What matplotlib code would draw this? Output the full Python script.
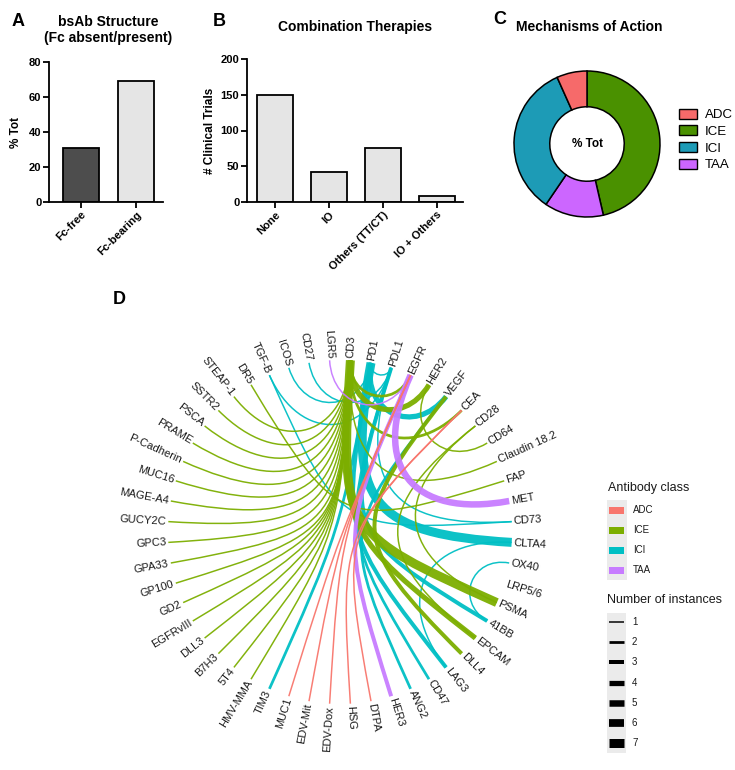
import matplotlib
matplotlib.use("Agg")
import matplotlib.pyplot as plt
import numpy as np
from matplotlib.path import Path
from matplotlib.patches import PathPatch, Rectangle, Patch

plt.rcParams["font.family"] = ["Liberation Sans", "DejaVu Sans"]

W, H = 735, 770

# ---- panel A / B / C data
fc_labels = ["Fc-free", "Fc-bearing"]
fc_values = [31, 69]
combo_labels = ["None", "IO", "Others (TT/CT)", "IO + Others"]
combo_values = [150, 42, 76, 8]
moa_labels = ["ADC", "ICE", "ICI", "TAA"]
moa_values = [6.7, 46.4, 33.8, 13.1]

# ---- panel D data (node order around the circle, clockwise from top)
nodes = [
    "CD3", "PD1", "PDL1", "EGFR", "HER2", "VEGF", "CEA", "CD28", "CD64",
    "Claudin 18.2", "FAP", "MET", "CD73", "CLTA4", "OX40", "LRP5/6", "PSMA",
    "41BB", "EPCAM", "DLL4", "LAG3", "CD47", "ANG2", "HER3", "DTPA", "HSG",
    "EDV-Dox", "EDV-Mit", "MUC1", "TIM3", "HMV-MMA", "5T4", "B7H3", "DLL3",
    "EGFRvIII", "GD2", "GP100", "GPA33", "GPC3", "GUCY2C", "MAGE-A4", "MUC16",
    "P-Cadherin", "PRAME", "PSCA", "SSTR2", "STEAP-1", "DR5", "TGF-B", "ICOS",
    "CD27", "LGR5",
]
edge_src = [
    "PD1", "PD1", "PD1", "PD1", "PD1", "PD1", "TGF-B", "PDL1", "PDL1", "PDL1",
    "PDL1", "PDL1", "VEGF", "41BB", "CLTA4",
    "CD3", "CD3", "CD3", "CD3", "CD3", "CD3", "CD3", "CD3", "CD3", "CD3",
    "CD3", "CD3", "CD3", "CD3", "CD3", "CD3", "CD3", "CD3", "CD3", "CD3",
    "CD3", "CD3", "CD3", "CD64", "DR5", "VEGF", "CD28", "CD28",
    "EGFR", "EGFR", "EGFR",
    "EGFR", "EGFR", "EGFR", "CEA", "CEA",
]
edge_dst = [
    "CLTA4", "LAG3", "TIM3", "VEGF", "PDL1", "ICOS", "CD73", "TGF-B", "CD27",
    "CD73", "41BB", "CD47", "ANG2", "OX40", "LAG3",
    "STEAP-1", "SSTR2", "PSCA", "PRAME", "P-Cadherin", "MUC16", "MAGE-A4",
    "GUCY2C", "GPC3", "GPA33", "GP100", "GD2", "EGFRvIII", "DLL3", "B7H3",
    "5T4", "HMV-MMA", "PSMA", "EPCAM", "HER2", "Claudin 18.2", "CEA", "EGFR",
    "HER2", "FAP", "DLL4", "PSMA", "EPCAM",
    "MET", "LGR5", "HER3",
    "EDV-Dox", "EDV-Mit", "MUC1", "HSG", "DTPA",
]
edge_cls = (["ICI"] * 15 + ["ICE"] * 28 + ["TAA"] * 3 + ["ADC"] * 5)
edge_n = [
    7, 3, 2, 4, 1, 1, 1, 1, 1, 1, 3, 2, 2, 1, 1,
    1, 1, 1, 1, 1, 1, 1, 1, 1, 1, 1, 1, 1, 1, 1, 1, 1, 7, 4, 4, 1, 2, 2,
    1, 1, 3, 1, 1,
    5, 1, 3,
    1, 1, 1, 1, 1,
]

cls_colors_d = {"ADC": "#F8766D", "ICE": "#7CAE00", "ICI": "#00BFC4", "TAA": "#C77CFF"}
cls_colors_c = {"ADC": "#F66A6A", "ICE": "#4A9100", "ICI": "#1D9BB6", "TAA": "#CC66FF"}


def px_rect(x0, y0, x1, y1):
    return [x0 / W, 1 - y1 / H, (x1 - x0) / W, (y1 - y0) / H]


def width_px(n):
    return 1.5 + (n - 1) * 1.25


def style_bar_axes(ax):
    for s in ["top", "right"]:
        ax.spines[s].set_visible(False)
    for s in ["left", "bottom"]:
        ax.spines[s].set_linewidth(1.3)
    ax.tick_params(width=1.3, length=4, labelsize=8, pad=1.5)
    for lab in ax.get_yticklabels() + ax.get_xticklabels():
        lab.set_fontweight("bold")


fig = plt.figure(figsize=(W / 100, H / 100), dpi=100)

# ---------------- A
axA = fig.add_axes(px_rect(49, 62, 163, 202))
xa = np.arange(len(fc_values))
axA.bar(xa, fc_values, width=0.65, color=["#4d4d4d", "#e5e5e5"], edgecolor="black", linewidth=1.3)
axA.set_xlim(-0.58, 1.49)
axA.set_ylim(0, 80)
axA.set_yticks([0, 20, 40, 60, 80])
axA.set_xticks(xa)
axA.set_xticklabels(fc_labels, rotation=45, ha="right", rotation_mode="anchor")
axA.set_ylabel("% Tot", fontsize=8.5, fontweight="bold", labelpad=5)
style_bar_axes(axA)
fig.text(108 / W, 1 - 30 / H, "bsAb Structure\n(Fc absent/present)", ha="center", va="center",
         fontsize=10, fontweight="bold", linespacing=1.1)
fig.text(12 / W, 1 - 21 / H, "A", fontsize=13, fontweight="bold", va="center")

# ---------------- B
axB = fig.add_axes(px_rect(247, 59, 463, 202))
xb = np.arange(len(combo_values))
axB.bar(xb, combo_values, width=0.67, color="#e5e5e5", edgecolor="black", linewidth=1.3)
axB.set_xlim(-0.52, 3.49)
axB.set_ylim(0, 200)
axB.set_yticks([0, 50, 100, 150, 200])
axB.set_xticks(xb)
axB.set_xticklabels(combo_labels, rotation=45, ha="right", rotation_mode="anchor")
axB.set_ylabel("# Clinical Trials", fontsize=8.5, fontweight="bold", labelpad=3)
style_bar_axes(axB)
fig.text(355 / W, 1 - 27 / H, "Combination Therapies", ha="center", va="center",
         fontsize=10, fontweight="bold")
fig.text(213 / W, 1 - 21 / H, "B", fontsize=13, fontweight="bold", va="center")

# ---------------- C
axC = fig.add_axes(px_rect(512, 69, 662, 219))
order = [1, 3, 2, 0]
axC.pie([moa_values[i] for i in order], colors=[cls_colors_c[moa_labels[i]] for i in order],
        startangle=90, counterclock=False, radius=1.0,
        wedgeprops=dict(width=0.49, edgecolor="black", linewidth=1.1))
axC.set_xlim(-75 / 73, 75 / 73)
axC.set_ylim(-75 / 73, 75 / 73)
axC.text(0, 0, "% Tot", ha="center", va="center", fontsize=8.5, fontweight="bold")
handles = [Patch(facecolor=cls_colors_c[l], edgecolor="black", linewidth=1.0) for l in moa_labels]
fig.legend(handles, moa_labels, loc="center left", bbox_to_anchor=(672 / W, 1 - 140 / H),
           frameon=False, fontsize=9.5, handlelength=1.4, handleheight=0.8,
           handletextpad=0.6, labelspacing=0.3, borderpad=0)
fig.text(589 / W, 1 - 27 / H, "Mechanisms of Action", ha="center", va="center",
         fontsize=10, fontweight="bold")
fig.text(493 / W, 1 - 20 / H, "C", fontsize=13, fontweight="bold", va="center")

# ---------------- D
CX, CY, R = 340, 532, 172
axD = fig.add_axes(px_rect(40, 232, 640, 770))
axD.set_xlim(-300 / R, 300 / R)
axD.set_ylim(-(H - CY) / R, (CY - 232) / R)
axD.axis("off")

n_nodes = len(nodes)
theta = np.deg2rad(90 - 180 / n_nodes - 360 * np.arange(n_nodes) / n_nodes)
pos = {name: np.array([np.cos(t), np.sin(t)]) for name, t in zip(nodes, theta)}

for s, d, c, n in zip(edge_src, edge_dst, edge_cls, edge_n):
    a, b = pos[s], pos[d]
    chord = np.linalg.norm(a - b)
    h = min(1.0, 0.62 * chord)
    verts = [a, a * (1 - h), b * (1 - h), b]
    path = Path(verts, [Path.MOVETO, Path.CURVE4, Path.CURVE4, Path.CURVE4])
    axD.add_patch(PathPatch(path, facecolor="none", edgecolor=cls_colors_d[c],
                            linewidth=width_px(n) * 0.72, capstyle="butt", alpha=0.95))

for name, t in zip(nodes, theta):
    deg = np.rad2deg(t)
    rr = 1 + 2.0 / R
    x, y = rr * np.cos(t), rr * np.sin(t)
    if np.cos(t) >= 0:
        rot, ha = deg, "left"
    else:
        rot, ha = deg + 180, "right"
    axD.text(x, y, name, rotation=rot, ha=ha, va="center", rotation_mode="anchor",
             fontsize=8, color="#1a1a1a")

fig.text(113 / W, 1 - 300 / H, "D", fontsize=13, fontweight="bold", va="center")

# ---------------- D legends
axL = fig.add_axes([0, 0, 1, 1], facecolor="none")
axL.set_xlim(0, W)
axL.set_ylim(H, 0)
axL.axis("off")
axL.text(608, 488, "Antibody class", fontsize=9, va="center", color="#1a1a1a")
axL.add_patch(Rectangle((607, 500), 20, 80, facecolor="#ebebeb", edgecolor="none"))
for i, lab in enumerate(moa_labels):
    yy = 510 + 20 * i
    axL.add_patch(Rectangle((609.5, yy - 3.5), 15, 7, facecolor=cls_colors_d[lab], edgecolor="none"))
    axL.text(633, yy, lab, fontsize=7, va="center", color="#1a1a1a")
axL.text(607, 600, "Number of instances", fontsize=9, va="center", color="#1a1a1a")
axL.add_patch(Rectangle((607, 613), 19, 140, facecolor="#ebebeb", edgecolor="none"))
for i, n in enumerate(range(1, 8)):
    yy = 622 + 20.2 * i
    axL.plot([609, 624], [yy, yy], color="black", linewidth=width_px(n) * 0.72, solid_capstyle="butt")
    axL.text(632, yy, str(n), fontsize=7, va="center", color="#1a1a1a")

fig.savefig("out.png", dpi=100)
